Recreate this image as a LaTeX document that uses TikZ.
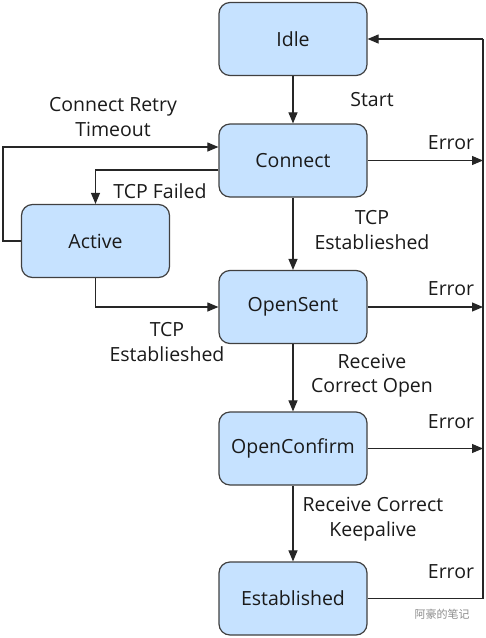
\documentclass[tikz,border=0pt]{standalone}
\usepackage{fontspec}
\setmainfont{Open Sans}
\newfontfamily\cjk{Noto Sans CJK SC}
\usetikzlibrary{arrows.meta}
\definecolor{boxfill}{HTML}{C6E2FF}
\definecolor{boxline}{HTML}{404040}
\definecolor{txt}{HTML}{1A1A1A}
\begin{document}
\begin{tikzpicture}[x=1pt,y=-1pt,
  state/.style={draw=boxline,line width=1.2pt,fill=boxfill,rounded corners=11pt,
    minimum width=148pt,minimum height=73pt,inner sep=0pt,font=\fontsize{19.5}{23}\selectfont,text=txt},
  lbl/.style={font=\fontsize{19.5}{24.5}\selectfont,text=txt,align=center,inner sep=0pt},
  conn/.style={draw=black!85,line width=1.1pt,-{Triangle[length=11pt,width=9pt]}},
  plain/.style={draw=black!85,line width=1.1pt}]
\useasboundingbox (0,0) rectangle (486,638);
\node[state] (idle) at (293,39) {Idle};
\node[state] (connect) at (293,160.5) {Connect};
\node[state] (active) at (95.5,241) {Active};
\node[state] (opensent) at (293,307) {OpenSent};
\node[state] (openconfirm) at (293,448.5) {OpenConfirm};
\node[state] (established) at (293,598.5) {Established};
% right bus
\coordinate (r0) at (483,39);
\coordinate (r1) at (483,160.5);
\coordinate (r2) at (483,307);
\coordinate (r3) at (483,448.5);
\coordinate (r4) at (483,598.5);
\coordinate (lx) at (3,147);
\coordinate (tf) at (0,170);
% vertical transitions
\draw[conn] (idle) -- (connect);
\draw[conn] (connect) -- (opensent);
\draw[conn] (opensent) -- (openconfirm);
\draw[conn] (openconfirm) -- (established);
% error arrows
\draw[conn] (connect.east) -- (r1);
\draw[conn] (opensent.east) -- (r2);
\draw[conn] (openconfirm.east) -- (r3);
\draw[plain] (established.east) -- (r4) -- (r0);
\draw[conn] (r0) -- (idle.east);
% active loops
\draw[conn] (active.west) -| (lx) -- (lx -| connect.west);
\draw[conn] (tf -| connect.west) -| (active.north);
\draw[conn] (active.south) |- (opensent.west);
% labels
\node[lbl] (lstart) at (372,100) {Start};
\node[lbl] (lretry) at (113,117) {Connect Retry\\Timeout};
\node[lbl] (lfail) at (160,191) {TCP Failed};
\node[lbl] (ltcp1) at (372,230) {TCP\\Establieshed};
\node[lbl] (ltcp2) at (167,342) {TCP\\Establieshed};
\node[lbl] (lopen) at (372,375.5) {Receive\\Correct Open};
\node[lbl] (lkeep) at (373,519) {Receive Correct\\Keepalive};
\node[lbl] (le1) at (451,143) {Error};
\node[lbl] (le2) at (451,289) {Error};
\node[lbl] (le3) at (451,422) {Error};
\node[lbl] (le4) at (451,572) {Error};
\node[font=\cjk\fontsize{11}{12}\selectfont,text=black!45,inner sep=0pt] (wm) at (442,614) {阿豪的笔记};
\end{tikzpicture}
\end{document}
